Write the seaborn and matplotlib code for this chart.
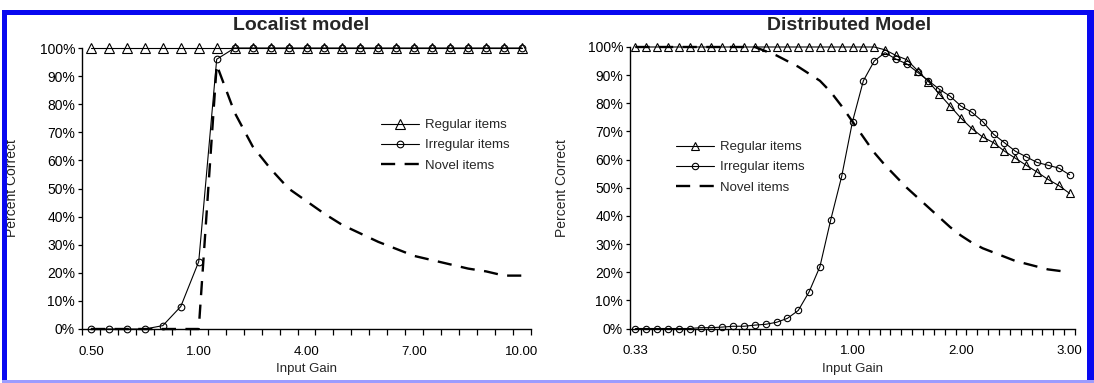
import numpy as np
import pandas as pd
import matplotlib
matplotlib.use("Agg")
import matplotlib.pyplot as plt
import seaborn as sns
from matplotlib.patches import Rectangle
from matplotlib.lines import Line2D

# ---------------- data ----------------
# Localist model: 25 input-gain categories, labelled every 6th
loc_tick_labels = ["0.50", "1.00", "4.00", "7.00", "10.00"]
loc_tick_index = [0, 6, 12, 18, 24]
loc_regular = [100, 100, 100, 100, 100, 100, 100, 100, 100, 100, 100, 100, 100,
               100, 100, 100, 100, 100, 100, 100, 100, 100, 100, 100, 100]
loc_irregular = [0, 0, 0, 0, 1.2, 8, 24, 96, 100, 100, 100, 100, 100,
                 100, 100, 100, 100, 100, 100, 100, 100, 100, 100, 100, 100]
loc_novel = [0, 0, 0, 0, 0, 0, 0, 94, 77, 65, 57, 50, 45.5,
             41, 37, 34, 31, 28.5, 26, 24.5, 23, 21.5, 20.5, 19, 19]

# Distributed model: 41 input-gain categories, labelled every 10th
dist_tick_labels = ["0.33", "0.50", "1.00", "2.00", "3.00"]
dist_tick_index = [0, 10, 20, 30, 40]
dist_regular = [100, 100, 100, 100, 100, 100, 100, 100, 100, 100,
                100, 100, 100, 100, 100, 100, 100, 100, 100, 100,
                100, 100, 100, 99, 97, 95.5, 91.6, 87.7, 83.3, 79,
                74.7, 71, 68, 66, 63, 60.5, 58, 55.6, 53, 50.8, 48]
dist_irregular = [0, 0, 0, 0, 0, 0, 0.3, 0.3, 0.5, 0.8,
                  0.8, 1.2, 1.5, 2.2, 3.6, 6.4, 13, 22, 38.7, 54,
                  73.5, 88, 95, 98, 95.7, 94, 91, 88, 85, 82.5,
                  79, 76.8, 73.5, 69, 66, 63, 61, 59, 58, 57, 54.6]
dist_novel = [100, 100, 100, 100, 100, 100, 100, 100, 100, 100,
              100, 100, 98.5, 97, 95, 93, 90.5, 88, 84, 79,
              73.5, 68, 62.5, 58, 54, 50, 46.5, 43, 39.5, 36,
              33, 30.5, 28.5, 27, 25.5, 24, 23, 22, 21, 20.5, 20]

series_names = ["Regular items", "Irregular items", "Novel items"]

# ---------------- figure ----------------
sns.set_theme(style="white")
plt.rcParams["font.family"] = ["Liberation Sans", "DejaVu Sans"]

W, H = 1094, 383
fig = plt.figure(figsize=(W / 100, H / 100), dpi=100)
fig.patch.set_facecolor("white")

def px_axes(x0, x1, ytop, ybot):
    return fig.add_axes([x0 / W, 1 - ybot / H, (x1 - x0) / W, (ybot - ytop) / H])

ax1 = px_axes(82, 531, 48, 329)
ax2 = px_axes(630, 1075, 47, 328.5)

DASH = (0, (6, 4))

def draw_panel(ax, regular, irregular, novel, tick_idx, tick_lab, tri, circ):
    n = len(regular)
    idx = np.arange(n)
    df = pd.DataFrame({"gain": idx, "Regular items": regular,
                       "Irregular items": irregular, "Novel items": novel})
    common = dict(ax=ax, color="black", legend=False, clip_on=False)
    sns.lineplot(data=df, x="gain", y="Regular items", marker="^",
                 markersize=tri, markerfacecolor="none",
                 markeredgecolor="black", markeredgewidth=0.8,
                 linewidth=0.8, zorder=3, **common)
    sns.lineplot(data=df, x="gain", y="Irregular items", marker="o",
                 markersize=circ, markerfacecolor="none",
                 markeredgecolor="black", markeredgewidth=0.8,
                 linewidth=0.8, zorder=4, **common)
    sns.lineplot(data=df, x="gain", y="Novel items",
                 linewidth=1.7, linestyle=DASH, zorder=2, **common)

    ax.set_xlim(-0.5, n - 0.5)
    ax.set_ylim(0, 100)
    ax.set_yticks(np.arange(0, 101, 10))
    ax.set_yticklabels([f"{v}%" for v in range(0, 101, 10)])
    ax.set_xticks(tick_idx)
    ax.set_xticklabels(tick_lab)
    ax.set_xticks(np.arange(-0.5, n, 1.0), minor=True)
    ax.tick_params(axis="x", which="major", length=0, pad=12, labelsize=9.5,
                   colors="black")
    ax.tick_params(axis="x", which="minor", length=4, width=0.9,
                   direction="out", bottom=True, color="black")
    ax.tick_params(axis="y", which="major", length=3, width=0.9,
                   direction="out", left=True, pad=2, labelsize=10,
                   colors="black")
    for s in ["top", "right"]:
        ax.spines[s].set_visible(False)
    for s in ["left", "bottom"]:
        ax.spines[s].set_visible(True)
        ax.spines[s].set_color("black")
        ax.spines[s].set_linewidth(1.0)
    ax.set_xlabel("Input Gain", fontsize=9.5, labelpad=4)
    ax.set_ylabel("Percent Correct", fontsize=10)
    ax.set_facecolor("white")
    ax.grid(False)

    handles = [
        Line2D([], [], color="black", lw=0.8, marker="^", markersize=tri,
               markerfacecolor="none", markeredgewidth=0.8),
        Line2D([], [], color="black", lw=0.8, marker="o", markersize=circ,
               markerfacecolor="none", markeredgewidth=0.8),
        Line2D([], [], color="black", lw=1.7, linestyle=DASH),
    ]
    return handles

h1 = draw_panel(ax1, loc_regular, loc_irregular, loc_novel,
                loc_tick_index, loc_tick_labels, 6.5, 4.8)
h2 = draw_panel(ax2, dist_regular, dist_irregular, dist_novel,
                dist_tick_index, dist_tick_labels, 6.0, 4.6)

ax1.yaxis.set_label_coords((19 - 82) / 449, 0.5)
ax2.yaxis.set_label_coords((569 - 630) / 445, 0.5)

leg_kw = dict(frameon=False, fontsize=9.5, handlelength=2.9, handletextpad=0.45,
              labelspacing=0.6, borderaxespad=0, borderpad=0)
ax1.legend(h1, series_names, loc="upper left",
           bbox_to_anchor=((381 - 82) / 449, (329 - 119) / 281), **leg_kw)
ax2.legend(h2, series_names, loc="upper left",
           bbox_to_anchor=((676 - 630) / 445, (328.5 - 141) / 281.5), **leg_kw)

fig.text(301 / W, 1 - 25 / H, "Localist model", ha="center", va="center",
         fontsize=14, fontweight="bold")
fig.text(849 / W, 1 - 25 / H, "Distributed Model", ha="center", va="center",
         fontsize=14, fontweight="bold")

# blue frame around the figure
blue = "#0808f0"
def px_rect(x0, y0, x1, y1, color):
    fig.patches.append(Rectangle((x0 / W, 1 - y1 / H), (x1 - x0) / W, (y1 - y0) / H,
                                 transform=fig.transFigure, color=color, lw=0,
                                 zorder=10))
px_rect(2, 10, 7, 381, blue)
px_rect(2, 10, W, 15, blue)
px_rect(1087, 10, W, 381, blue)
px_rect(2, 380, W, H, "#9c9cff")

fig.savefig("out.png", dpi=100, facecolor="white")
